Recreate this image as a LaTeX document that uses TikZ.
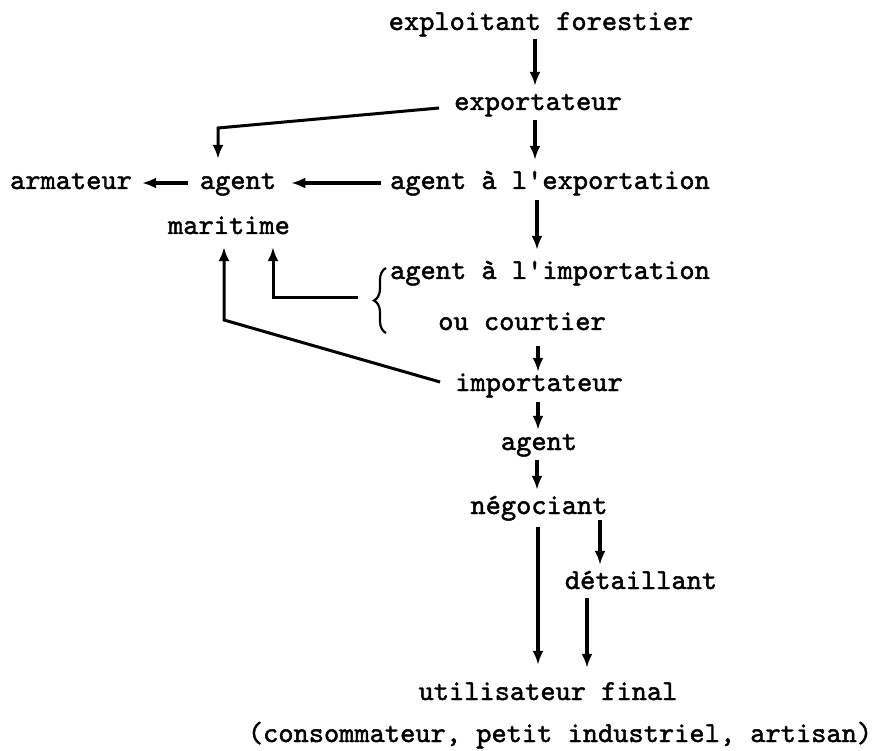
\documentclass[tikz,border=0pt]{standalone}
\usepackage{fontspec}
\newfontfamily\tw{lmmono10-regular.otf}[FakeBold=1.6]
\usetikzlibrary{arrows.meta,decorations.pathreplacing}
\begin{document}
\begin{tikzpicture}[x=1pt,y=-1pt,
  lbl/.style={font=\tw\fontsize{29}{34}\selectfont, inner sep=0pt,
              text height=18pt, text depth=6pt},
  arr/.style={line width=3.2pt, -{Latex[length=14pt,width=11pt]}},
  elbow/.style={line width=3pt, -{Latex[length=14pt,width=11pt]}},
  ]
\useasboundingbox (0,0) rectangle (881,751);

% labels of the chain
\node[lbl] (ef)   at (541,24)  {exploitant forestier};
\node[lbl] (exp)  at (538,104) {exportateur};
\node[lbl] (aexp) at (550,183) {agent à l'exportation};
\node[lbl] (agt)  at (238,183) {agent};
\node[lbl] (arm)  at (71,183)  {armateur};
\node[lbl] (mar)  at (229,228) {maritime};
\node[lbl] (aimp) at (550,273) {agent à l'importation};
\node[lbl] (oc)   at (522,324) {ou courtier};
\node[lbl] (imp)  at (539,385) {importateur};
\node[lbl] (ag2)  at (539,444) {agent};
\node[lbl] (neg)  at (539,508) {négociant};
\node[lbl] (det)  at (641,583) {détaillant};
\node[lbl] (uf)   at (548,694) {utilisateur final};
\node[lbl] (cons) at (560,736) {(consommateur, petit industriel, artisan)};

% bends and free ends
\coordinate (c1) at (218,128);
\coordinate (c2) at (224,320);
\coordinate (bl) at (358,298);

% main vertical flow
\draw[arr, shorten <=3pt, shorten >=6pt]  ([xshift=-6pt]ef.south)  -- ([xshift=-6pt]ef.south |- exp.north);
\draw[arr, shorten <=4pt, shorten >=11pt] ([xshift=-3pt]exp.south) -- ([xshift=-3pt]exp.south |- aexp.north);
\draw[arr, shorten <=5pt, shorten >=11pt] ([xshift=-13pt]aexp.south) -- ([xshift=-13pt]aexp.south |- aimp.north);
\draw[arr, shorten <=10pt, shorten >=1pt] ([xshift=16pt]oc.south) -- ([xshift=16pt]oc.south |- imp.north);
\draw[arr, shorten <=5pt, shorten >=2pt]  ([xshift=-1pt]imp.south) -- ([xshift=-1pt]imp.south |- ag2.north);
\draw[arr, shorten <=4pt, shorten >=6pt]  ([xshift=-2pt]ag2.south) -- ([xshift=-2pt]ag2.south |- neg.north);
\draw[arr, shorten <=7pt, shorten >=17pt] ([xshift=-1pt]neg.south) -- ([xshift=-1pt]neg.south |- uf.north);
\draw[arr, shorten <=0pt, shorten >=6pt]  ([xshift=61pt]neg.south) -- ([xshift=61pt]neg.south |- det.north);
\draw[arr, shorten <=3pt, shorten >=14pt] ([xshift=-54pt]det.south) -- ([xshift=-54pt]det.south |- uf.north);

% towards the shipping agent
\draw[arr, shorten <=9pt, shorten >=15pt] (aexp.west) -- (agt.east);
\draw[arr, shorten <=12pt, shorten >=10pt] (agt.west) -- (arm.east);
\draw[elbow, shorten >=12pt] ([xshift=-15pt,yshift=-4pt]exp.west) -- (c1) -- (c1 |- agt.north);
\draw[elbow, shorten >=7pt] (bl) -| ([xshift=44pt]mar.south);
\draw[elbow, shorten >=7pt] ([xshift=-15pt,yshift=3pt]imp.west) -- (c2) -- (c2 |- mar.south);

% brace grouping the import agent and the broker
\draw[line width=2.2pt, decorate, decoration={brace, amplitude=12pt}] (386,333) -- (386,268);
\end{tikzpicture}
\end{document}
